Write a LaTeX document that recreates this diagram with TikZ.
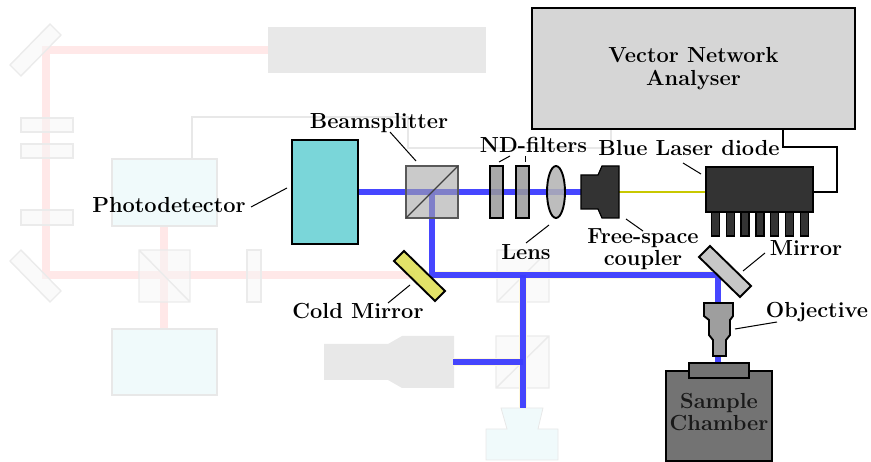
\documentclass[tikz,border=0pt]{standalone}
\definecolor{pinkbeam}{HTML}{FFE8E8}
\definecolor{halo}{HTML}{FFF8DC}
\definecolor{bluebeam}{HTML}{3C3CFF}
\definecolor{fgrey}{HTML}{E8E8E8}
\definecolor{fpale}{HTML}{F6F6F6}
\definecolor{fcyan}{HTML}{F0FAFB}
\newcommand{\lblfont}{\bfseries\fontsize{21.8}{22.5}\selectfont}
\tikzset{
  x=1pt,y=-1pt,
  lbl/.style={font=\lblfont,align=center,inner sep=0pt,text=black},
  leader/.style={draw=black,line width=1pt},
  red beam/.style={draw=pinkbeam,line width=8pt},
  halo beam/.style={draw=halo,line width=8pt},
  blue beam/.style={draw=bluebeam,line width=6.5pt,opacity=.95},
  faint/.style={draw=fgrey!85!white,line width=1.4pt,fill=fpale,fill opacity=.55},
  faintbox/.style={draw=fgrey,line width=1.6pt,fill=fcyan},
  opt/.style={draw=black,line width=1.9pt},
}
\begin{document}
\begin{tikzpicture}
\useasboundingbox (0,0) rectangle (871,462);
% named beam points
\coordinate (p1) at (46,50);\coordinate (p2) at (268,50);\coordinate (p3) at (46,275);\coordinate (p4) at (415,275);
\coordinate (p5) at (164,226);\coordinate (p6) at (164,329);
\coordinate (b1) at (358,192);\coordinate (b2) at (590,192);\coordinate (b3) at (432,192);\coordinate (b4) at (432,275);
\coordinate (b5) at (718,275);\coordinate (b6) at (718,366);\coordinate (b7) at (523,275);\coordinate (b8) at (523,408);
\coordinate (b9) at (523,362);\coordinate (b10) at (453,362);
% red beams
\draw[red beam,line join=miter] (p2) -- (p1) -- (p3) -- (p4);
\draw[red beam] (p5) -- (p6);
% faint grey signal wire
\draw[draw=fgrey,line width=1.4pt] (192,159) -- (192,117) -- (408,117) -- (408,148) -- (611,148) -- (611,129);
% faint components
\fill[fgrey] (268,27) rectangle (486,73);
\draw[faint] (50,24) -- (61,35) -- (21,76) -- (10,65) -- cycle;
\draw[faint] (21,250) -- (61,291) -- (50,302) -- (10,261) -- cycle;
\draw[faint] (21,118) rectangle (73,132);
\draw[faint] (21,144) rectangle (73,158);
\draw[faint] (21,210) rectangle (73,225);
\draw[faintbox] (112,159) rectangle (217,226);
\draw[faintbox] (112,329) rectangle (217,395);
\draw[faint] (139,250) rectangle (190,302) (139,250) -- (190,302);
\draw[faint] (247,250) rectangle (261,302);
\draw[faint] (497,250) rectangle (549,302) (497,302) -- (549,250);
\draw[faint] (496,336) rectangle (549,388) (496,388) -- (549,336);
\fill[fgrey] (324,344) -- (388,344) -- (402,336) -- (454,336) -- (454,388) -- (402,388) -- (388,380) -- (324,380) -- cycle;
\draw[draw=fgrey,line width=.8pt,fill=fcyan] (501,408) -- (543,408) -- (538,429) -- (558,429) -- (558,460) -- (486,460) -- (486,429) -- (507,429) -- cycle;
% blue beams
\draw[halo beam] (b4) -- (b5) (b7) -- (b8) (b9) -- (b10);
\draw[blue beam,line join=miter] (b1) -- (b2);
\draw[blue beam,line join=miter] (b3) -- (b4) -- (b5) -- (b6);
\draw[blue beam] (b7) -- (b8);
\draw[blue beam] (b9) -- (b10);
% main instruments
\node[draw=black,line width=2pt,fill=gray!32,minimum width=323pt,minimum height=121pt,inner sep=0pt,
      font=\lblfont,align=center] (vna) at (693.5,68.5) {Vector Network\\Analyser};
\node[draw=black,line width=2pt,fill={rgb,255:red,122;green,214;blue,217},minimum width=66pt,minimum height=104pt,inner sep=0pt] (pd) at (325,192) {};
\draw[draw=black!65,line width=1.7pt,fill=gray!70,fill opacity=.6] (406,166) rectangle (458,218);
\draw[draw=black!75,line width=1.3pt] (406,218) -- (458,166);
\draw[opt,fill=black!40,fill opacity=.85] (490,166) rectangle (503,218);
\draw[opt,fill=black!40,fill opacity=.85] (516,166) rectangle (529,218);
\draw[opt,fill=black!30,fill opacity=.85] (556,192) ellipse [x radius=9,y radius=26];
\draw[opt,fill={rgb,255:red,224;green,224;blue,96},fill opacity=.95] (404,251) -- (445,291) -- (435,301) -- (394,261) -- cycle;
\draw[opt,fill=black!22] (710,246) -- (751,286) -- (740,297) -- (699,257) -- cycle;
% laser and coupler
\coordinate (y1) at (619,192);\coordinate (y2) at (706,192);
\draw[draw={rgb,255:red,200;green,200;blue,0},line width=2pt] (y1) -- (y2);
\draw[draw=black,line width=1.2pt,fill=black!80] (581,175) -- (598,175) -- (602,166) -- (619,166) -- (619,218) -- (602,218) -- (598,209) -- (581,209) -- cycle;
\foreach \a in {711.5,726.5,741,756,770.5,785.5,800.5}
  \draw[draw=black,line width=1.2pt,fill=black!80] (\a,212) rectangle (\a+8,236);
\draw[draw=black,line width=1.2pt,fill=black!80] (706,167) rectangle (813,212);
\coordinate (w1) at (783,129);\coordinate (w2) at (783,147);\coordinate (w3) at (837,147);\coordinate (w4) at (837,192);\coordinate (w5) at (813,192);
\draw[draw=black,line width=1.8pt] (w1) -- (w2) -- (w3) -- (w4) -- (w5);
% objective and chamber
\draw[opt,fill=black!38] (704,303) -- (733,303) -- (733,316) -- (730,320) -- (730,335) -- (726,340) -- (726,356) -- (713,356) -- (713,340) -- (709,335) -- (709,320) -- (704,316) -- cycle;
\node[draw=black,line width=2pt,fill=black!55,minimum width=106pt,minimum height=90pt,inner sep=0pt] (chamber) at (719,416) {};
\node[draw=black,line width=2pt,fill=black!55,minimum width=60pt,minimum height=15pt,inner sep=0pt] (stage) at (719,370.5) {};
\node[lbl,text=black!90] (samplelbl) at (719,412) {Sample\\Chamber};
% labels
\node[lbl] (lpd) at (169,205) {Photodetector};
\node[lbl] (lbs) at (379,123) {Beamsplitter};
\node[lbl] (lnd) at (533.5,145) {ND-filters};
\node[lbl] (lbd) at (689,148) {Blue Laser diode};
\node[lbl] (lle) at (526,252) {Lens};
\node[lbl] (lfs) at (643,249) {Free-space\\coupler};
\node[lbl] (lmi) at (806,248) {Mirror};
\node[lbl] (lcm) at (358,311) {Cold Mirror};
\node[lbl] (lob) at (817,312) {Objective};
% leaders
\coordinate (a1) at (251,207);\coordinate (a2) at (287,188);\draw[leader] (a1) -- (a2);
\coordinate (c1) at (390,132);\coordinate (c2) at (416,161);\draw[leader] (c1) -- (c2);
\coordinate (d1) at (510,156);\coordinate (d2) at (499,162);\draw[leader] (d1) -- (d2);
\coordinate (e1) at (525,156);\coordinate (e2) at (525,162);\draw[leader] (e1) -- (e2);
\coordinate (f1) at (549,225);\coordinate (f2) at (526,243);\draw[leader] (f1) -- (f2);
\coordinate (g1) at (410,285);\coordinate (g2) at (388,303);\draw[leader] (g1) -- (g2);
\coordinate (h1) at (683,163);\coordinate (h2) at (701,174);\draw[leader] (h1) -- (h2);
\coordinate (i1) at (626,219);\coordinate (i2) at (643,231);\draw[leader] (i1) -- (i2);
\coordinate (j1) at (765,253);\coordinate (j2) at (743,271);\draw[leader] (j1) -- (j2);
\coordinate (k1) at (777,322);\coordinate (k2) at (735,329);\draw[leader] (k1) -- (k2);
\end{tikzpicture}
\end{document}
